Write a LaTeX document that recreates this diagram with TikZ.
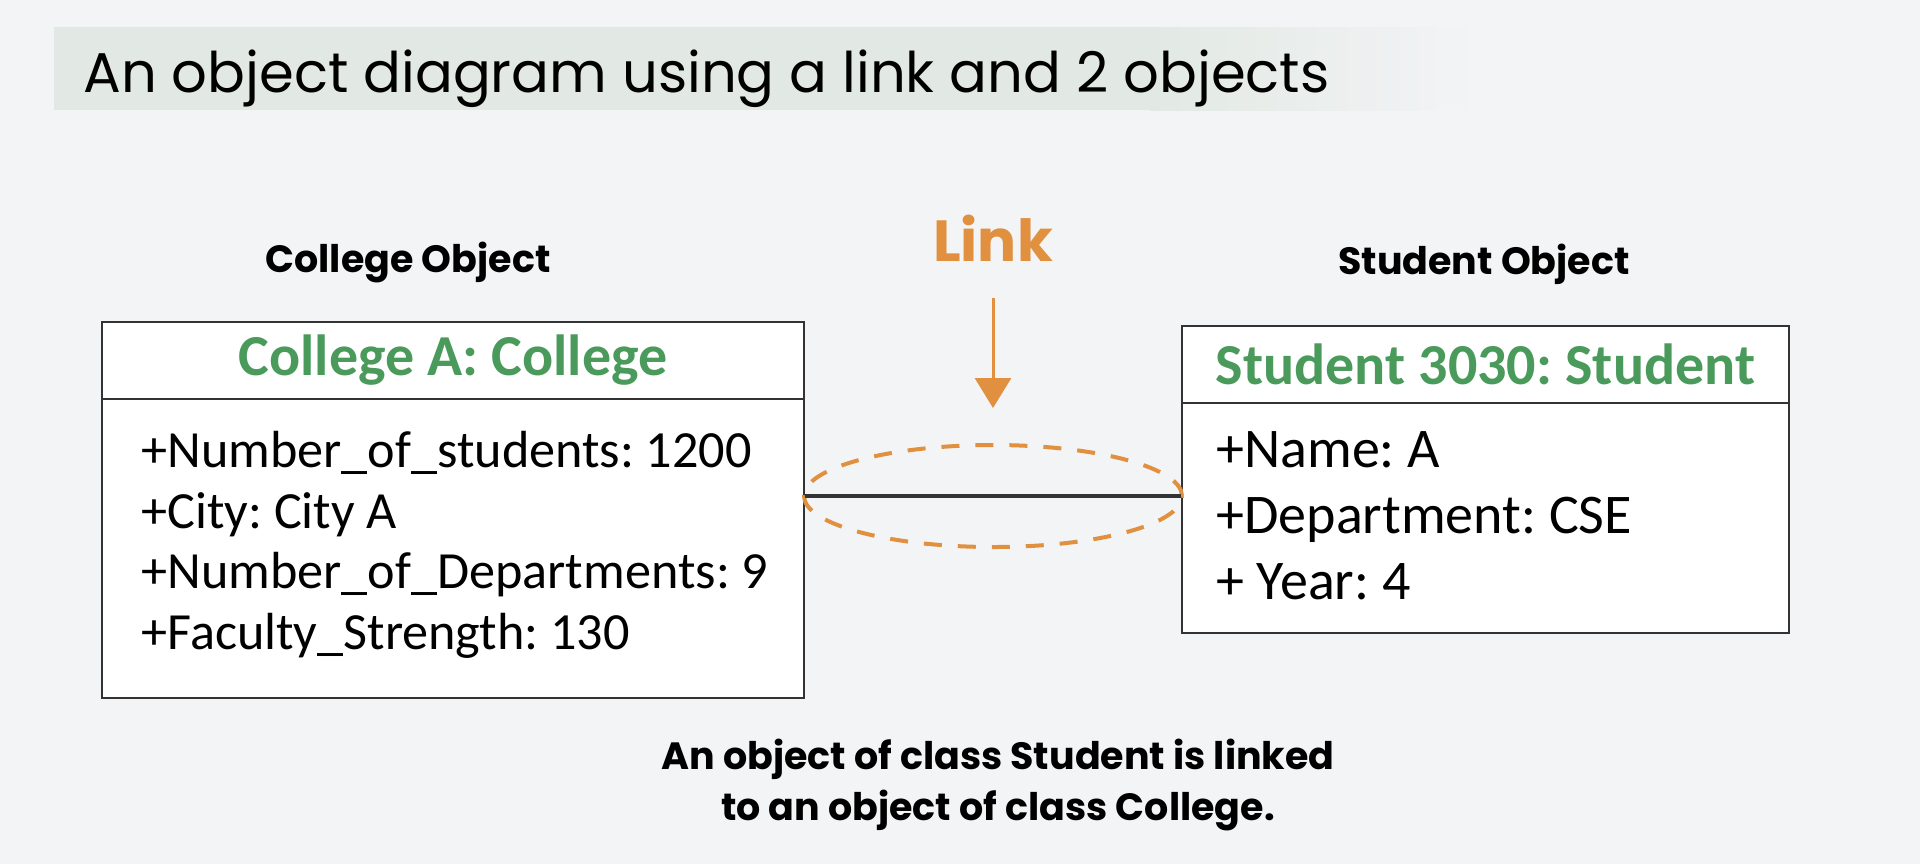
\documentclass[tikz,border=0pt]{standalone}
\usepackage{fontspec}
\setmainfont{Carlito}
\newfontfamily\popfont{Poppins}
\usetikzlibrary{positioning,calc,arrows.meta,shapes.geometric}
\frenchspacing

\definecolor{pagebg}{HTML}{F3F4F6}
\definecolor{bandcol}{HTML}{E2E9E4}
\definecolor{objgreen}{HTML}{4A9B5B}
\definecolor{linkorange}{HTML}{E0903F}
\definecolor{boxline}{HTML}{333333}

\begin{document}
\begin{tikzpicture}[x=0.5pt,y=-0.5pt,
  objbox/.style={rectangle,draw=boxline,line width=1pt,fill=white,inner sep=0pt},
  headbox/.style={rectangle,draw=boxline,line width=1pt,inner sep=0pt,minimum height=38.5pt,
    font=\bfseries\fontsize{29}{35}\selectfont,text=objgreen},
  attrtext/.style={align=left,anchor=west,inner sep=0pt},
  tagtext/.style={font=\popfont\bfseries\fontsize{19}{23}\selectfont,anchor=base,inner sep=0pt},
  linkarrow/.style={-{Triangle[length=15pt,width=18pt]},draw=linkorange,fill=linkorange,line width=1.5pt}
]
% background and title band
\fill[pagebg] (0,0) rectangle (1920,864);
\useasboundingbox (0,0) rectangle (1920,864);
\fill[bandcol] (54,27) rectangle (1150,110);
\fill[left color=bandcol,right color=pagebg] (1150,27) rectangle (1482,110);
\node[anchor=base west,inner sep=0pt,font=\popfont\fontsize{28}{34}\selectfont] (title) at (83,92)
  {An object diagram using a link and 2 objects};

% college object
\node[tagtext] (collegeTag) at (408,272) {College Object};
\node[objbox,minimum width=351pt,minimum height=188pt] (collegeBox) at (453,510) {};
\node[headbox,minimum width=351pt,anchor=north] (collegeHead) at (collegeBox.north) {College A: College};
\node[attrtext,font=\fontsize{26.1}{30.3}\selectfont] (collegeAttr) at (141,545)
  {+Number\_of\_students: 1200\\+City: City A\\+Number\_of\_Departments: 9\\+Faculty\_Strength: 130};

% student object
\node[tagtext] (studentTag) at (1484,274) {Student Object};
\node[objbox,minimum width=303.5pt,minimum height=153.5pt] (studentBox) at (1485.5,479.5) {};
\node[headbox,minimum width=303.5pt,anchor=north] (studentHead) at (studentBox.north) {Student 3030: Student};
\node[attrtext,font=\fontsize{28}{33}\selectfont] (studentAttr) at (1216,515.5)
  {+Name: A\\+Department: CSE\\+ Year: 4};

% the link
\node[draw=linkorange,dash pattern=on 9pt off 8pt,line width=2pt,ellipse,
  minimum width=189pt,minimum height=51pt,inner sep=0pt] (linkEll) at (993,496) {};
\draw[boxline,line width=2pt] (collegeBox.east |- linkEll.center) -- (studentBox.west |- linkEll.center);
\node[tagtext,text=linkorange,font=\popfont\bfseries\fontsize{29}{35}\selectfont] (linkTag) at (993,261) {Link};
\coordinate (arrowTop) at (993,298);
\draw[linkarrow] (arrowTop) -- ([yshift=17.5pt]linkEll.north);

% note
\node[tagtext] (noteA) at (998,769) {An object of class Student is linked};
\node[tagtext] (noteB) at ([yshift=-25.5pt]noteA.base) {to an object of class College.};
\end{tikzpicture}
\end{document}
